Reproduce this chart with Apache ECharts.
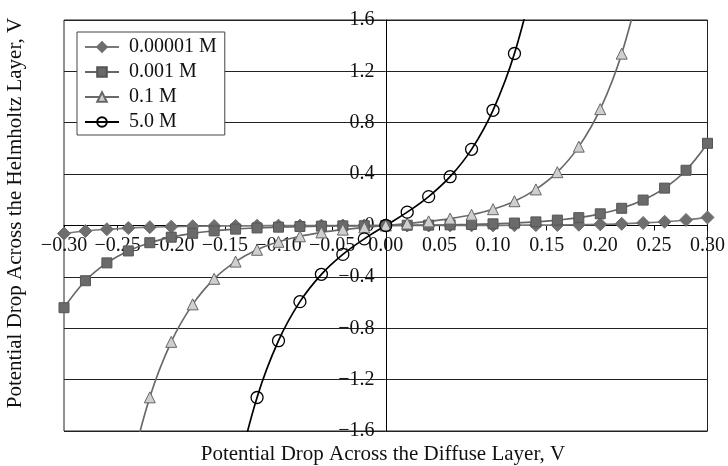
<!DOCTYPE html>
<html><head><meta charset="utf-8">
<script src="https://cdn.jsdelivr.net/npm/echarts@6/dist/echarts.min.js"></script>
<style>html,body{margin:0;padding:0;background:#fff}#c{width:728px;height:466px}</style>
</head><body><div id="c"></div>
<script>
// Potential drop across the diffuse layer (V) – marker positions
const xValues = [-0.30,-0.28,-0.26,-0.24,-0.22,-0.20,-0.18,-0.16,-0.14,-0.12,-0.10,-0.08,-0.06,-0.04,-0.02,
  0.00,0.02,0.04,0.06,0.08,0.10,0.12,0.14,0.16,0.18,0.20,0.22,0.24,0.26,0.28,0.30];
const seriesNames = ['0.00001 M','0.001 M','0.1 M','5.0 M'];
// Potential drop across the Helmholtz layer (V)
const conc00001 = [-0.063,-0.043,-0.029,-0.020,-0.013,-0.009,-0.006,-0.004,-0.003,-0.002,-0.001,-0.001,-0.001,0,0,
  0,0,0,0.001,0.001,0.001,0.002,0.003,0.004,0.006,0.009,0.013,0.020,0.029,0.043,0.063];
const conc001 = [-0.64,-0.430,-0.291,-0.198,-0.134,-0.091,-0.061,-0.042,-0.028,-0.019,-0.013,-0.008,-0.005,-0.003,-0.002,
  0,0.002,0.003,0.005,0.008,0.013,0.019,0.028,0.042,0.061,0.091,0.134,0.198,0.291,0.430,0.64];
const conc01 = [null,null,null,-1.975,-1.338,-0.906,-0.614,-0.415,-0.281,-0.189,-0.127,-0.084,-0.054,-0.032,-0.015,
  0,0.015,0.032,0.054,0.084,0.127,0.189,0.281,0.415,0.614,0.906,1.338,1.975,null,null,null];
const conc50 = [null,null,null,null,null,null,null,null,-1.986,-1.339,-0.897,-0.593,-0.380,-0.225,-0.104,
  0,0.104,0.225,0.380,0.593,0.897,1.339,1.986,null,null,null,null,null,null,null,null];
const yTicks = {min:-1.6, max:1.6, interval:0.4};
const xTicks = {min:-0.30, max:0.30, interval:0.05};

const FONT = 'Liberation Serif';
const minus = s => s.replace('-', '\u2212');
const pairs = arr => xValues.map((x,i)=>[x, arr[i]]);

const G = {left:64, right:19, top:20, bottom:35};
const plotW = 728 - G.left - G.right, plotH = 466 - G.top - G.bottom;
// offsets that move each axis (line + labels) onto the other axis' zero
const xAxisOffset = -plotH * (0 - yTicks.min) / (yTicks.max - yTicks.min);
const yAxisOffset = -plotW * (0 - xTicks.min) / (xTicks.max - xTicks.min);

const chart = echarts.init(document.getElementById('c'));
const styles = [
  {symbol:'diamond', size:13, color:'#6e6e6e', border:'#6e6e6e', line:'#7a7a7a'},
  {symbol:'rect', size:10, color:'#6a6a6a', border:'#555', line:'#666'},
  {symbol:'triangle', size:11, color:'#cfcfcf', border:'#666', line:'#6a6a6a'},
  {symbol:'circle', size:12, color:'rgba(0,0,0,0)', border:'#000', line:'#000'}
];
const datas = [conc00001, conc001, conc01, conc50];
chart.setOption({
  animation:false,
  backgroundColor:'#fff',
  grid:{left:G.left, right:G.right, top:G.top, bottom:G.bottom, show:true, borderColor:'#222', borderWidth:1, containLabel:false},
  xAxis:{type:'value', min:xTicks.min, max:xTicks.max, interval:xTicks.interval, position:'bottom', offset:xAxisOffset,
    axisLine:{onZero:false, lineStyle:{color:'#000', width:1}},
    axisTick:{show:true, length:5, inside:false, lineStyle:{color:'#000'}},
    axisLabel:{margin:10, color:'#111', fontFamily:FONT, fontSize:20, showMinLabel:true, showMaxLabel:true,
      formatter:v=>minus(Number(v).toFixed(2))},
    splitLine:{show:false}},
  yAxis:{type:'value', min:yTicks.min, max:yTicks.max, interval:yTicks.interval, position:'left', offset:yAxisOffset,
    axisLine:{onZero:false, lineStyle:{color:'#000', width:1}},
    axisTick:{show:false},
    axisLabel:{margin:12, color:'#111', fontFamily:FONT, fontSize:20, showMinLabel:true, showMaxLabel:true,
      formatter:v=>{ if (Math.abs(v)<1e-9) return '0'; return minus(Number(v).toFixed(1)); }},
    splitLine:{show:true, lineStyle:{color:'#222', width:1}}},
  legend:{orient:'vertical', left:77, top:32, width:151, height:103,
    backgroundColor:'#fff', borderColor:'#444', borderWidth:1, padding:[5,8,3,7],
    itemWidth:34, itemHeight:12, itemGap:5,
    textStyle:{fontFamily:FONT, fontSize:20, color:'#111', lineHeight:20, padding:[0,0,0,5]},
    data:seriesNames},
  graphic:[
    {type:'text', x:383, y:454, style:{text:'Potential Drop Across the Diffuse Layer, V', font:'21px "Liberation Serif"', fill:'#111', textAlign:'center', textVerticalAlign:'middle'}},
    {type:'text', x:15, y:213, rotation:Math.PI/2, style:{text:'Potential Drop Across the Helmholtz Layer, V', font:'21px "Liberation Serif"', fill:'#111', textAlign:'center', textVerticalAlign:'middle'}}
  ],
  series: seriesNames.map((name,i)=>({
    name, type:'line', data:pairs(datas[i]), smooth:0.4, clip:true,
    symbol:styles[i].symbol, symbolSize:styles[i].size, showAllSymbol:true,
    lineStyle:{color:styles[i].line, width:1.7},
    itemStyle:{color:styles[i].color, borderColor:styles[i].border, borderWidth: i===3?1.3:1},
    emphasis:{disabled:true}
  }))
});
</script></body></html>
